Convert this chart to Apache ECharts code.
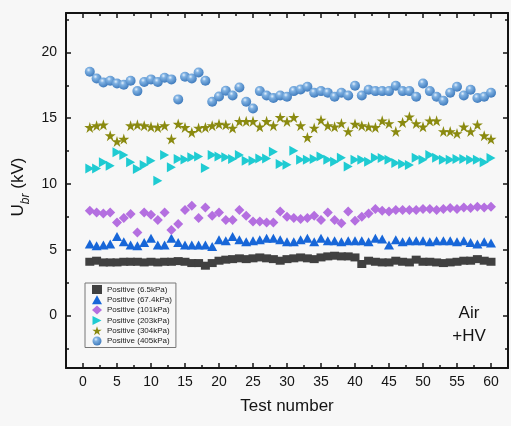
<!DOCTYPE html>
<html>
<head>
<meta charset="utf-8">
<script src="https://cdn.jsdelivr.net/npm/echarts@6/dist/echarts.min.js"></script>
<style>
  html, body { margin: 0; padding: 0; background: #f7f7f7; }
  #chart { width: 511px; height: 426px; }
</style>
</head>
<body>
<div id="chart"></div>
<script>
// Breakdown voltage of air (positive polarity, HV side) over 60 consecutive tests
const testNumber = [1,2,3,4,5,6,7,8,9,10,11,12,13,14,15,16,17,18,19,20,
  21,22,23,24,25,26,27,28,29,30,31,32,33,34,35,36,37,38,39,40,
  41,42,43,44,45,46,47,48,49,50,51,52,53,54,55,56,57,58,59,60];

const seriesNames = ['Positive (6.5kPa)', 'Positive (67.4kPa)', 'Positive (101kPa)',
  'Positive (203kPa)', 'Positive (304kPa)', 'Positive (405kPa)'];

const ubr_6_5kPa = [4.08,4.16,4.03,4.03,4.03,4.08,4.08,4.08,4.03,4.08,
  4.03,4.08,4.08,4.13,4.08,3.98,3.98,3.78,3.98,4.16,
  4.24,4.28,4.34,4.28,4.34,4.41,4.34,4.28,4.16,4.28,
  4.34,4.41,4.34,4.28,4.41,4.49,4.54,4.49,4.49,4.41,
  3.91,4.16,4.08,4.03,4.03,4.16,4.08,4.03,4.24,4.08,
  4.08,4.03,3.98,4.03,4.08,4.16,4.16,4.28,4.16,4.08];

const ubr_67_4kPa = [5.43,5.30,5.35,5.43,6.01,5.60,5.35,5.30,5.55,5.86,
  5.35,5.35,5.86,5.55,5.35,5.35,5.35,5.35,5.25,5.76,
  5.68,6.01,5.76,5.60,5.68,5.76,5.86,5.86,5.76,5.60,
  5.60,5.76,5.86,5.60,5.86,5.68,5.68,5.60,5.68,5.68,
  5.68,5.60,5.86,5.81,5.35,5.76,5.60,5.68,5.68,5.68,
  5.60,5.68,5.68,5.68,5.60,5.68,5.55,5.43,5.60,5.50];

const ubr_101kPa = [7.96,7.83,7.76,7.83,7.07,7.40,7.71,6.31,7.83,7.66,
  7.25,7.83,6.49,6.95,8.01,8.34,7.40,8.21,7.58,7.83,
  7.25,7.25,8.01,7.58,7.15,7.15,7.07,7.07,7.91,7.50,
  7.40,7.33,7.40,7.58,7.25,7.83,7.25,7.00,7.91,7.20,
  7.50,7.76,8.09,7.96,7.91,8.01,8.01,8.01,8.01,8.09,
  8.09,8.01,8.09,8.16,8.09,8.21,8.16,8.27,8.21,8.27];

const ubr_203kPa = [11.18,11.18,11.64,11.38,12.40,12.20,11.64,11.13,11.44,11.76,
  10.24,12.20,11.26,11.89,11.85,12.02,12.09,11.21,12.20,12.09,
  12.02,11.89,12.20,11.76,11.76,11.94,11.94,12.45,11.51,11.46,
  12.52,11.84,11.84,11.89,12.09,11.84,11.69,12.00,11.33,11.84,
  11.84,11.69,12.00,11.97,11.84,11.59,11.51,11.44,12.00,11.84,
  12.20,12.00,11.84,11.84,11.89,11.89,11.84,11.84,11.64,11.97];

const ubr_304kPa = [14.30,14.43,14.50,13.67,13.23,13.41,14.43,14.50,14.43,14.35,
  14.30,14.43,13.41,14.55,14.30,13.92,14.25,14.30,14.43,14.55,
  14.50,14.25,14.76,14.76,14.76,14.35,14.76,14.43,15.06,14.75,
  15.06,14.43,13.54,14.25,14.86,14.43,14.35,14.60,13.99,14.55,
  14.43,14.35,14.30,14.80,14.60,13.99,14.68,15.11,14.60,14.35,
  14.80,14.80,13.99,13.99,13.84,14.35,13.99,14.50,13.67,13.41];

const ubr_405kPa = [18.53,18.02,17.72,17.85,17.64,17.54,17.85,17.06,17.75,17.95,
  17.75,18.08,17.95,16.43,18.15,18.02,18.48,17.85,16.25,16.65,
  17.09,16.73,17.34,16.25,15.74,17.06,16.73,16.53,16.73,16.63,
  17.06,17.19,17.39,16.94,17.06,16.94,16.63,16.94,16.73,17.47,
  16.73,17.16,17.06,17.06,17.06,17.47,17.06,17.06,16.63,17.64,
  17.06,16.63,16.33,16.94,17.39,16.73,17.16,16.53,16.63,16.94];

// axis ticks
const xMajorTicks = [0,5,10,15,20,25,30,35,40,45,50,55,60];
const xMinorTicks = [2.5,7.5,12.5,17.5,22.5,27.5,32.5,37.5,42.5,47.5,52.5,57.5];
const yMajorTicks = [0,5,10,15,20];
const yMinorTicks = [-2.5,2.5,7.5,12.5,17.5,22.5];

const X_MIN = -2.5, X_MAX = 62.5, Y_MIN = -4, Y_MAX = 23;
const INK = '#141414';
const FONT = 'Liberation Sans, Arial, sans-serif';

const starPath = 'path://M50,0 L61.2,34.5 L97.6,34.5 L68.2,55.9 L79.4,90.5 L50,69.1 L20.6,90.5 L31.8,55.9 L2.4,34.5 L38.8,34.5 Z';
const rightTriPath = 'path://M0,0 L10,5 L0,10 Z';

function pairs(values) {
  return testNumber.map((n, i) => [n, values[i]]);
}

function xAxisDef(position, ticks, len, main) {
  return {
    type: 'value', position, min: X_MIN, max: X_MAX,
    axisLine: { show: main, onZero: false, lineStyle: { color: INK, width: 2 } },
    axisTick: { show: true, inside: true, length: len, customValues: ticks,
      lineStyle: { color: INK, width: 1.5 } },
    axisLabel: { show: main && position === 'bottom', customValues: ticks, margin: 7,
      fontSize: 14, color: INK, fontFamily: FONT },
    splitLine: { show: false }
  };
}

function yAxisDef(position, ticks, len, main) {
  return {
    type: 'value', position, min: Y_MIN, max: Y_MAX,
    axisLine: { show: main, onZero: false, lineStyle: { color: INK, width: 2 } },
    axisTick: { show: true, inside: true, length: len, customValues: ticks,
      lineStyle: { color: INK, width: 1.5 } },
    axisLabel: { show: main && position === 'left', customValues: ticks, margin: 9,
      fontSize: 14, color: INK, fontFamily: FONT },
    splitLine: { show: false }
  };
}

const xAxes = [
  Object.assign(xAxisDef('bottom', xMajorTicks, 5, true), {
    name: 'Test number', nameLocation: 'middle', nameGap: 30,
    nameTextStyle: { fontSize: 17, color: INK, fontFamily: FONT }
  }),
  xAxisDef('bottom', xMinorTicks, 3, false),
  xAxisDef('top', xMajorTicks, 5, true),
  xAxisDef('top', xMinorTicks, 3, false)
];

const yAxes = [
  yAxisDef('left', yMajorTicks, 5, true),
  yAxisDef('left', yMinorTicks, 3, false),
  yAxisDef('right', yMajorTicks, 5, true),
  yAxisDef('right', yMinorTicks, 3, false)
];

const sphere = {
  type: 'radial', x: 0.38, y: 0.32, r: 0.75,
  colorStops: [
    { offset: 0, color: '#e4f0fc' },
    { offset: 0.28, color: '#7fb1e2' },
    { offset: 1, color: '#3774b8' }
  ]
};

const styles = [
  { symbol: 'rect', size: [9, 8], color: '#404040' },
  { symbol: 'triangle', size: [10, 9], color: '#1766d8' },
  { symbol: 'diamond', size: [10, 10], color: '#b46fe0' },
  { symbol: rightTriPath, size: [9, 10], color: '#1fcbd2' },
  { symbol: starPath, size: [11, 11], color: '#8a8a10' },
  { symbol: 'circle', size: [10, 10], color: sphere }
];

const values = [ubr_6_5kPa, ubr_67_4kPa, ubr_101kPa, ubr_203kPa, ubr_304kPa, ubr_405kPa];

const series = seriesNames.map((name, i) => ({
  name, type: 'scatter', xAxisIndex: 0, yAxisIndex: 0,
  symbol: styles[i].symbol, symbolSize: styles[i].size,
  itemStyle: { color: styles[i].color, opacity: 1 },
  emphasis: { disabled: true },
  data: pairs(values[i])
}));

const chart = echarts.init(document.getElementById('chart'), null, { renderer: 'canvas' });
chart.setOption({
  backgroundColor: '#f7f7f7',
  animation: false,
  grid: { left: 66, right: 3, top: 13, bottom: 58, containLabel: false, outerBoundsMode: 'none' },
  xAxis: xAxes,
  yAxis: yAxes,
  legend: {
    orient: 'vertical', left: 85, top: 283,
    itemWidth: 10, itemHeight: 9, itemGap: 1.3,
    padding: [2, 4, 2, 7],
    borderColor: '#777', borderWidth: 1,
    textStyle: { fontSize: 8, color: '#222', fontFamily: FONT },
    data: seriesNames
  },
  graphic: [
    {
      // vertical axis title with subscript
      type: 'text', x: 26, y: 187, rotation: Math.PI / 2,
      style: {
        text: '{m|U}{s|br}{m| (kV)}', align: 'center', verticalAlign: 'middle',
        fill: INK, font: '17px ' + FONT,
        rich: {
          m: { fontSize: 17, fill: INK, fontFamily: FONT, lineHeight: 20, verticalAlign: 'top' },
          s: { fontSize: 12, fill: INK, fontFamily: FONT, fontStyle: 'italic', lineHeight: 32, verticalAlign: 'middle' }
        }
      }
    },
    {
      type: 'text', x: 469, y: 302,
      style: { text: 'Air\n+HV', fill: INK, font: '17px ' + FONT, align: 'center',
        verticalAlign: 'top', lineHeight: 23 }
    }
  ],
  series
});
</script>
</body>
</html>
